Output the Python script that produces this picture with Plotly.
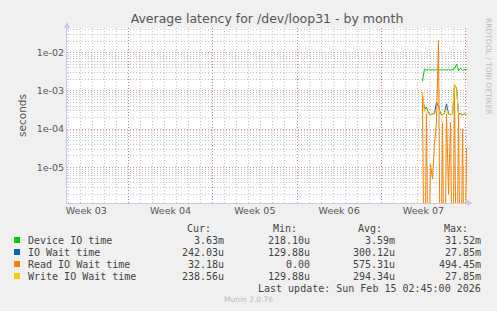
import plotly.graph_objects as go
import pandas as pd

# ---------------- data ----------------
title = "Average latency for /dev/loop31 - by month"
y_title = "seconds"
series_names = ["Device IO time", "IO Wait time", "Read IO Wait time", "Write IO Wait time"]
series_colors = ["#00CC00", "#0066B3", "#FF8000", "#FFCC00"]

time_start = "2026-02-11 10:00"
time_end = "2026-02-15 02:00"
time_step = "4h"

device_io = [1.8e-3, 3.7e-3, 3.5e-3, 3.6e-3, 3.5e-3, 3.6e-3, 3.5e-3, 3.6e-3, 3.5e-3, 3.6e-3,
             3.5e-3, 3.6e-3, 3.5e-3, 3.6e-3, 3.5e-3, 3.6e-3, 3.8e-3, 5.0e-3, 3.4e-3, 3.9e-3,
             3.5e-3, 3.6e-3, 3.63e-3]
io_wait = [8.0e-4, 3.3e-4, 3.8e-4, 2.6e-4, 2.4e-4, 2.5e-4, 2.6e-4, 5.0e-4, 4.0e-4, 2.5e-4,
           2.4e-4, 2.7e-4, 4.6e-4, 2.5e-4, 2.4e-4, 2.5e-4, 1.4e-3, 1.2e-3, 2.6e-4, 2.5e-4,
           2.4e-4, 2.5e-4, 2.42e-4]
read_io_wait = [9.0e-4, 0, 2.5e-4, 0, 1.2e-5, 5.0e-6, 4.0e-5, 1.5e-4, 2.1e-2, 0,
                1.5e-4, 0, 2.5e-4, 2.0e-6, 1.5e-4, 0, 1.5e-3, 0, 3.0e-4, 0,
                1.0e-4, 0, 3.2e-5]
write_io_wait = [9.5e-4, 2.9e-4, 3.5e-4, 2.5e-4, 2.35e-4, 2.4e-4, 2.5e-4, 3.2e-4, 3.6e-4, 2.4e-4,
                 2.35e-4, 2.6e-4, 3.4e-4, 2.4e-4, 2.35e-4, 2.4e-4, 1.5e-3, 1.1e-3, 2.5e-4, 2.4e-4,
                 2.35e-4, 2.4e-4, 2.3856e-4]

cur_vals = ["3.63m", "242.03u", "32.18u", "238.56u"]
min_vals = ["218.10u", "129.88u", "0.00", "129.88u"]
avg_vals = ["3.59m", "300.12u", "575.31u", "294.34u"]
max_vals = ["31.52m", "27.85m", "494.45m", "27.85m"]
col_headers = ["Cur:", "Min:", "Avg:", "Max:"]
last_update = "Last update: Sun Feb 15 02:45:00 2026"
munin_version = "Munin 2.0.76"
side_text = "RRDTOOL / TOBI OETIKER"

week_labels = ["Week 03", "Week 04", "Week 05", "Week 06", "Week 07"]
week_starts = ["2026-01-11", "2026-01-18", "2026-01-25", "2026-02-01", "2026-02-08", "2026-02-15"]
x_range = ["2026-01-12 21:36", "2026-02-15 02:50"]

y_tick_vals = [1e-5, 1e-4, 1e-3, 1e-2]
y_tick_text = ["1e-05", "1e-04", "1e-03", "1e-02"]
y_log_range = [-5.93, -1.355]

# ---------------- layout geometry ----------------
W, H = 497, 311
L, R, T, B = 67, 30, 28, 108
PW, PH = W - L - R, H - T - B


def px(x):
    return (x - L) / PW


def py(y):
    return (H - B - y) / PH


times = pd.date_range(time_start, time_end, freq=time_step)
FLOOR = 1e-9  # zero values drawn down to the bottom edge, like rrdtool


def disp(vals):
    return [v if v > 0 else FLOOR for v in vals]


fig = go.Figure()
for name, vals, col in zip(series_names, [device_io, io_wait, read_io_wait, write_io_wait], series_colors):
    fig.add_trace(go.Scatter(x=times, y=disp(vals), mode="lines", name=name,
                             line=dict(color=col, width=1), showlegend=False,
                             hoverinfo="skip"))

week_mid = [pd.Timestamp(s) + pd.Timedelta(days=3.5) for s in week_starts[:-1]]
fig.add_trace(go.Scatter(x=week_mid, y=[None] * len(week_mid), xaxis="x2", yaxis="y",
                         mode="markers", showlegend=False, hoverinfo="skip"))

days = list(pd.date_range(week_starts[0], week_starts[-1], freq="1D"))
minor_y = [m * 10 ** e for e in range(-7, -1) for m in range(2, 10)]

MAJ = "rgba(225,100,100,0.7)"
MIN = "rgba(175,175,175,0.75)"
DASH = "1px,2px"
SANS = "DejaVu Sans"

fig.update_layout(
    width=W, height=H,
    margin=dict(l=L, r=R, t=T, b=B),
    paper_bgcolor="#F0F0F0", plot_bgcolor="#FFFFFF",
    font=dict(family=SANS, color="#555555", size=10),
    showlegend=False,
    title=dict(text=title, x=0.5, xref="paper", xanchor="center", y=1 - 19 / H, yanchor="middle",
               font=dict(family=SANS, size=12.5, color="#555555")),
    xaxis=dict(
        type="date", range=x_range, showticklabels=False,
        tickmode="array", tickvals=week_starts,
        showgrid=True, gridcolor=MAJ, griddash=DASH, gridwidth=1,
        minor=dict(tickmode="array", tickvals=days, showgrid=True,
                   gridcolor=MIN, griddash=DASH, gridwidth=1),
        showline=True, linecolor="#C8C8E8", linewidth=1,
        ticks="", zeroline=False,
    ),
    xaxis2=dict(
        type="date", range=x_range, overlaying="x", anchor="y", side="bottom",
        tickmode="array", tickvals=week_mid, ticktext=week_labels,
        showgrid=False, ticks="", showline=False, zeroline=False,
        tickfont=dict(family=SANS, size=9.5, color="#555555"),
    ),
    yaxis=dict(
        type="log", range=y_log_range,
        tickmode="array", tickvals=y_tick_vals, ticktext=y_tick_text,
        tickfont=dict(family=SANS, size=9.5, color="#555555"),
        showgrid=True, gridcolor=MAJ, griddash=DASH, gridwidth=1,
        minor=dict(tickmode="array", tickvals=minor_y, showgrid=True,
                   gridcolor=MIN, griddash=DASH, gridwidth=1),
        showline=True, linecolor="#C8C8E8", linewidth=1,
        ticks="", zeroline=False,
        title=dict(text=y_title, font=dict(family=SANS, size=10.5, color="#555555"), standoff=8),
    ),
)

# axis arrow heads
fig.add_shape(type="path", xref="paper", yref="paper",
              path=f"M {px(64)} {py(28)} L {px(70)} {py(28)} L {px(67)} {py(22)} Z",
              fillcolor="#C8C8E8", line=dict(width=0))
fig.add_shape(type="path", xref="paper", yref="paper",
              path=f"M {px(467)} {py(200)} L {px(467)} {py(206)} L {px(473)} {py(203)} Z",
              fillcolor="#C8C8E8", line=dict(width=0))

ann = []
mono = dict(family="DejaVu Sans Mono", size=10, color="#444444")
for txt, xr in zip(col_headers, [213, 299, 384, 470]):
    ann.append(dict(text=txt, x=px(xr), y=py(228), xanchor="right", yanchor="middle", font=mono))
row_y = [240, 252, 264, 276]
col_right = [226, 312, 397, 483]
for i, name in enumerate(series_names):
    fig.add_shape(type="rect", xref="paper", yref="paper",
                  x0=px(14), x1=px(20), y0=py(row_y[i] + 3), y1=py(row_y[i] - 3),
                  fillcolor=series_colors[i], line=dict(width=0))
    ann.append(dict(text=name, x=px(26), y=py(row_y[i]), xanchor="left", yanchor="middle", font=mono))
    for vals, xr in zip([cur_vals, min_vals, avg_vals, max_vals], col_right):
        ann.append(dict(text=vals[i], x=px(xr), y=py(row_y[i]), xanchor="right", yanchor="middle", font=mono))
ann.append(dict(text=last_update, x=px(483), y=py(288), xanchor="right", yanchor="middle", font=mono))
ann.append(dict(text=munin_version, x=px(248), y=py(299), xanchor="center", yanchor="middle",
                font=dict(family=SANS, size=7.5, color="#BBBBBB")))
ann.append(dict(text=side_text, x=px(489), y=py(66), xanchor="center", yanchor="middle", textangle=90,
                font=dict(family=SANS, size=7.5, color="#BBBBBB")))
for a in ann:
    a.update(xref="paper", yref="paper", showarrow=False)
fig.update_layout(annotations=ann)

fig.write_html("out.html")
